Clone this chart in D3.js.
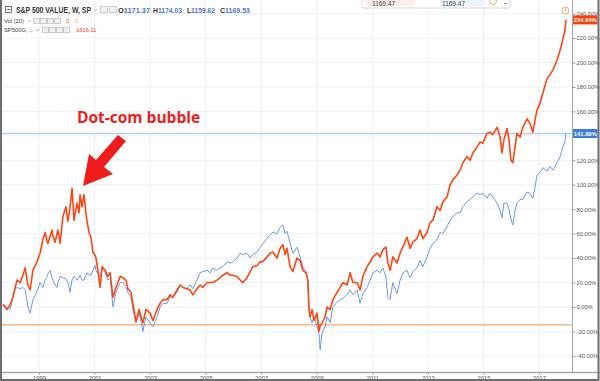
<!DOCTYPE html>
<html><head><meta charset="utf-8">
<script src="https://cdn.jsdelivr.net/npm/d3@7"></script>
<style>
body{margin:0;background:#fff}
svg{display:block;font-family:"Liberation Sans",Arial,sans-serif}
</style>
</head><body>
<svg id="c" width="600" height="381"></svg>
<script>
// Dates as decimal years (weekly chart, sampled)
const dates = [1997.70,1997.85,1997.96,1998.06,1998.14,1998.21,1998.32,1998.42,1998.50,1998.60,1998.68,1998.78,1998.89,
1999.04,1999.14,1999.22,1999.29,1999.32,1999.40,1999.47,1999.50,1999.58,1999.65,1999.68,1999.76,1999.86,1999.97,
2000.04,2000.12,2000.19,2000.26,2000.37,2000.44,2000.48,2000.55,2000.62,2000.69,2000.73,2000.80,2000.87,2000.94,
2001.02,2001.05,2001.12,2001.20,2001.27,2001.38,2001.48,2001.56,2001.66,2001.77,2001.92,
2002.02,2002.13,2002.20,2002.31,2002.38,2002.49,2002.60,2002.67,2002.74,2002.85,
2003.00,2003.10,2003.25,2003.36,2003.46,2003.61,2003.72,2003.82,2003.97,
2004.08,2004.18,2004.33,2004.44,2004.54,2004.69,2004.80,2004.90,
2005.05,2005.16,2005.26,2005.41,2005.52,2005.62,2005.77,2005.88,2005.98,
2006.13,2006.24,2006.34,2006.49,2006.60,2006.70,2006.85,2006.96,
2007.06,2007.21,2007.32,2007.42,2007.57,2007.68,2007.78,2007.86,2007.93,
2008.04,2008.14,2008.29,2008.40,2008.50,2008.61,2008.68,2008.72,2008.76,2008.83,2008.90,
2009.01,2009.08,2009.12,2009.19,2009.30,2009.37,2009.48,2009.58,2009.73,2009.84,2009.94,
2010.09,2010.20,2010.30,2010.45,2010.56,2010.66,2010.81,2010.92,
2011.02,2011.17,2011.28,2011.38,2011.49,2011.56,2011.64,2011.74,2011.89,
2012.00,2012.10,2012.25,2012.36,2012.46,2012.61,2012.72,2012.82,2012.97,
2013.08,2013.18,2013.33,2013.44,2013.54,2013.69,2013.80,2013.90,
2014.05,2014.16,2014.26,2014.41,2014.52,2014.62,2014.77,2014.88,2014.98,
2015.13,2015.24,2015.34,2015.49,2015.60,2015.67,2015.74,2015.85,2015.92,2015.99,
2016.06,2016.14,2016.21,2016.32,2016.42,2016.57,2016.68,2016.78,2016.86,2016.93,
2017.04,2017.14,2017.29,2017.40,2017.50,2017.65,2017.76,2017.86,2017.94,2017.97];

// SP500G (growth) – % change
const growth = [2,-2,2,8,16,22,20,26,32,18,14,30,35,
44,55,61,54,52,58,63,58,53,60,63,52,74,82,
70,82,97,71,85,77,92,82,92,77,70,61,57,45,
42,40,30,16,33,30,25,28,8,16,25,
24,22,15,12,3,-12,-2,-8,-13,-2,
-5,-11,-2,3,6,6,10,8,14,
18,16,15,14,10,15,18,16,
20,20,20,22,24,26,28,26,26,
25,22,20,24,29,33,34,37,
37,41,44,45,40,48,51,43,48,
33,29,40,38,30,28,22,-2,-8,-2,-11,
-5,-20,-15,-13,-8,0,-2,6,12,16,20,
18,28,20,20,14,25,33,37,
41,44,41,47,49,36,30,41,36,
44,49,57,48,53,56,63,56,61,
69,71,82,79,86,90,100,104,
108,112,118,123,120,126,131,135,134,
142,143,141,147,139,126,137,146,137,120,
118,131,142,139,147,154,150,143,153,161,
167,175,187,190,194,202,210,219,227,234.84];

// S&P 500 Value – % change
const value = [2,0,-2,8,15,16,15,16,14,0,-5,6,11,
20,16,22,25,27,30,24,22,18,16,20,25,24,23,
20,12,22,25,22,24,26,22,22,26,28,26,26,30,
34,30,27,25,31,28,22,24,0,12,20,
20,16,12,8,-2,-13,-5,-12,-20,-8,
-13,-16,-8,0,3,3,8,8,12,
18,16,15,18,15,22,28,29,
30,28,32,30,32,33,37,36,37,
40,44,43,44,40,43,45,49,
52,56,59,61,60,65,67,60,62,
52,44,49,41,33,29,22,0,-8,-13,-8,
-16,-22,-35,-21,-16,-8,-13,0,4,6,7,
10,14,10,14,3,11,16,22,
28,30,28,32,25,8,6,20,11,
22,28,30,24,29,32,38,33,41,
48,52,55,61,60,66,71,74,
77,77,82,86,88,90,93,92,93,
89,93,90,85,79,73,85,85,80,72,
67,79,85,88,88,94,93,89,98,108,
110,114,111,115,112,118,123,131,136,141.89];

const yTicks = [-40,-20,0,20,40,60,80,100,120,140,160,180,200,220,240];
const yLabelTicks = [-40,-20,0,20,40,60,80,100,120,160,180,200,220,240];
const xTickYears = [1999,2001,2003,2005,2007,2009,2011,2013,2015,2017];
const growthLast = 234.84, valueLast = 141.89;
const userLine = -14.7;

const toDate = d => { const y = Math.floor(d); const f = d - y; return new Date(new Date(y,0,1).getTime() + f*365.25*864e5); };

const svg = d3.select("#c");
const x = d3.scaleTime().domain([new Date(1999,0,1), new Date(2017,0,1)]).range([39,539]);
const y = d3.scaleLinear().domain([0,240]).range([307,13.6]);
const plotR = 572, plotB = 372;

// grid
const grid = svg.append("g");
grid.selectAll("line.v").data(xTickYears).join("line")
  .attr("x1", d=>x(new Date(d,0,1))).attr("x2", d=>x(new Date(d,0,1)))
  .attr("y1", 0).attr("y2", plotB).attr("stroke","#eaeff5").attr("stroke-width",1);
grid.selectAll("line.h").data(yTicks).join("line")
  .attr("x1", 2).attr("x2", plotR).attr("y1", d=>y(d)).attr("y2", d=>y(d))
  .attr("stroke","#eef2f6").attr("stroke-width",1);

svg.append("clipPath").attr("id","clip").append("rect").attr("x",2).attr("y",0).attr("width",plotR-2).attr("height",plotB);
const plot = svg.append("g").attr("clip-path","url(#clip)");

// horizontal reference lines
plot.append("line").attr("x1",2).attr("x2",plotR).attr("y1",y(valueLast)).attr("y2",y(valueLast))
  .attr("stroke","#b9cdf0").attr("stroke-width",1.5);
plot.append("line").attr("x1",2).attr("x2",plotR).attr("y1",y(userLine)).attr("y2",y(userLine))
  .attr("stroke","#f4a870").attr("stroke-width",1.2);

const line = d3.line().x((d,i)=>x(toDate(dates[i]))).y(d=>y(d));
plot.append("path").datum(value).attr("d", line).attr("fill","none").attr("stroke","#6d9be3").attr("stroke-width",1).attr("stroke-linejoin","round");
plot.append("path").datum(growth).attr("d", line).attr("fill","none").attr("stroke","#ff4513").attr("stroke-width",1.6).attr("stroke-linejoin","round");

// axes frame
svg.append("line").attr("x1",plotR+0.5).attr("x2",plotR+0.5).attr("y1",0).attr("y2",plotB).attr("stroke","#a9a9a9");
svg.append("line").attr("x1",0).attr("x2",600).attr("y1",plotB+0.5).attr("y2",plotB+0.5).attr("stroke","#a9a9a9").attr("stroke-width",1.5);

// right axis
const ya = svg.append("g").attr("transform",`translate(${plotR+0.5},0)`)
  .call(d3.axisRight(y).tickValues(yLabelTicks).tickSize(3).tickPadding(1).tickFormat(d=>d.toFixed(2)+"%"));
ya.select(".domain").remove();
ya.selectAll("line").attr("stroke","#999");
ya.selectAll("text").attr("font-size",5.8).attr("fill","#555");

// bottom axis
const xa = svg.append("g").attr("transform",`translate(0,${plotB+0.5})`)
  .call(d3.axisBottom(x).tickValues(xTickYears.map(d=>new Date(d,0,1))).tickSize(2).tickPadding(1).tickFormat(d3.timeFormat("%Y")));
xa.select(".domain").remove();
xa.selectAll("line").attr("stroke","#999");
xa.selectAll("text").attr("font-size",5.8).attr("fill","#555");

// last value labels
function lastLabel(v, col){
  const g = svg.append("g").attr("transform",`translate(${plotR+1},${y(v)})`);
  g.append("rect").attr("x",0).attr("y",-4.5).attr("width",24.5).attr("height",9).attr("fill",col);
  g.append("text").attr("x",12.3).attr("y",2.2).attr("text-anchor","middle").attr("font-size",5.8).attr("font-weight","bold").attr("fill","#fff").text(v.toFixed(2)+"%");
}
lastLabel(growthLast,"#ff3d0a");
lastLabel(valueLast,"#3b7ddd");

// outer border
svg.append("rect").attr("x",1).attr("y",-3).attr("width",597.5).attr("height",383).attr("fill","none").attr("stroke","#6e6e6e").attr("stroke-width",2);

// dropdown chevron helper
function chev(g, cx, cy){ g.append("path").attr("d",`M${cx-1.5},${cy-0.8} L${cx},${cy+0.8} L${cx+1.5},${cy-0.8}`).attr("fill","none").attr("stroke","#999").attr("stroke-width",0.8); }

// header legend
const hd = svg.append("g");
hd.append("rect").attr("x",5.5).attr("y",6.5).attr("width",6).attr("height",6).attr("fill","none").attr("stroke","#777");
hd.append("line").attr("x1",7).attr("x2",10.5).attr("y1",9.5).attr("y2",9.5).attr("stroke","#777");
hd.append("text").attr("x",16).attr("y",13).attr("font-size",8.3).attr("font-weight","bold").attr("fill","#333")
  .attr("textLength",75).attr("lengthAdjust","spacingAndGlyphs").text("S&P 500 VALUE, W, SP");
chev(hd, 95.5, 10);
[100,109].forEach(px=>hd.append("rect").attr("x",px+0.5).attr("y",6.5).attr("width",7).attr("height",6).attr("fill","#f2f2f2").attr("stroke","#ccc"));
const ohlc = [["O","1171.37",118,32],["H","1174.03",153,29],["L","1159.62",187,28],["C","1169.53",220,30]];
ohlc.forEach(([k,v,px,w])=>{
  const t = hd.append("text").attr("x",px).attr("y",13).attr("font-size",8).attr("font-weight","bold").attr("fill","#333")
    .attr("textLength",w).attr("lengthAdjust","spacingAndGlyphs");
  t.append("tspan").text(k);
  t.append("tspan").attr("fill","#4a77cf").text(v);
});
hd.append("text").attr("x",4).attr("y",23).attr("font-size",5.8).attr("fill","#444").text("Vol (20)");
chev(hd, 29.5, 21);
[33,40,47,54].forEach(px=>hd.append("rect").attr("x",px+0.5).attr("y",18.5).attr("width",6).attr("height",5).attr("fill","#f2f2f2").attr("stroke","#ccc"));
hd.append("text").attr("x",66).attr("y",23).attr("font-size",6).attr("fill","#f44").text("0");
hd.append("text").attr("x",75).attr("y",23).attr("font-size",6).attr("fill","#f5a060").text("0");
hd.append("text").attr("x",4).attr("y",32).attr("font-size",5.8).attr("fill","#444").text("SP500G, ...");
chev(hd, 37.5, 30);
[42,49,56,63].forEach(px=>hd.append("rect").attr("x",px+0.5).attr("y",27.5).attr("width",6).attr("height",5).attr("fill","#f2f2f2").attr("stroke","#ccc"));
hd.append("text").attr("x",76).attr("y",32).attr("font-size",5.8).attr("fill","#f33").text("1616.11");

// top floating box
const fb = svg.append("g");
fb.append("rect").attr("x",362).attr("y",-6).attr("width",148).attr("height",14).attr("rx",2).attr("fill","#fff").attr("stroke","#d6d6d6");
fb.append("rect").attr("x",365).attr("y",-4).attr("width",50).attr("height",10).attr("fill","#fdeeee");
fb.append("rect").attr("x",440).attr("y",-4).attr("width",45).attr("height",10).attr("fill","#edf3fb");
fb.append("text").attr("x",372).attr("y",5.5).attr("font-size",6.5).attr("fill","#444").text("1169.47");
fb.append("text").attr("x",442).attr("y",5.5).attr("font-size",6.5).attr("fill","#444").text("1169.47");
fb.append("circle").attr("cx",493).attr("cy",1).attr("r",3.5).attr("fill","none").attr("stroke","#f5a66a").attr("stroke-width",1);
fb.append("line").attr("x1",504).attr("x2",507).attr("y1",3.5).attr("y2",3.5).attr("stroke","#888").attr("stroke-width",0.8);
svg.append("circle").attr("cx",565.5).attr("cy",10.5).attr("r",3.5).attr("fill","none").attr("stroke","#f5a66a").attr("stroke-width",1);
svg.append("line").attr("x1",565.5).attr("x2",565.5).attr("y1",8.5).attr("y2",11).attr("stroke","#f5a66a");

// annotation
svg.append("text").attr("x",77).attr("y",123).attr("font-size",15.5).attr("font-weight","bold").attr("fill","#f01c1c")
  .attr("font-family","'Open Sans','Liberation Sans',sans-serif").text("Dot-com bubble");
svg.append("path")
  .attr("d","M126,141 L118,135 L96,160 L89,154 L83,186 L113,174 L104,167 Z")
  .attr("fill","#f01c1c");
</script>
</body></html>
